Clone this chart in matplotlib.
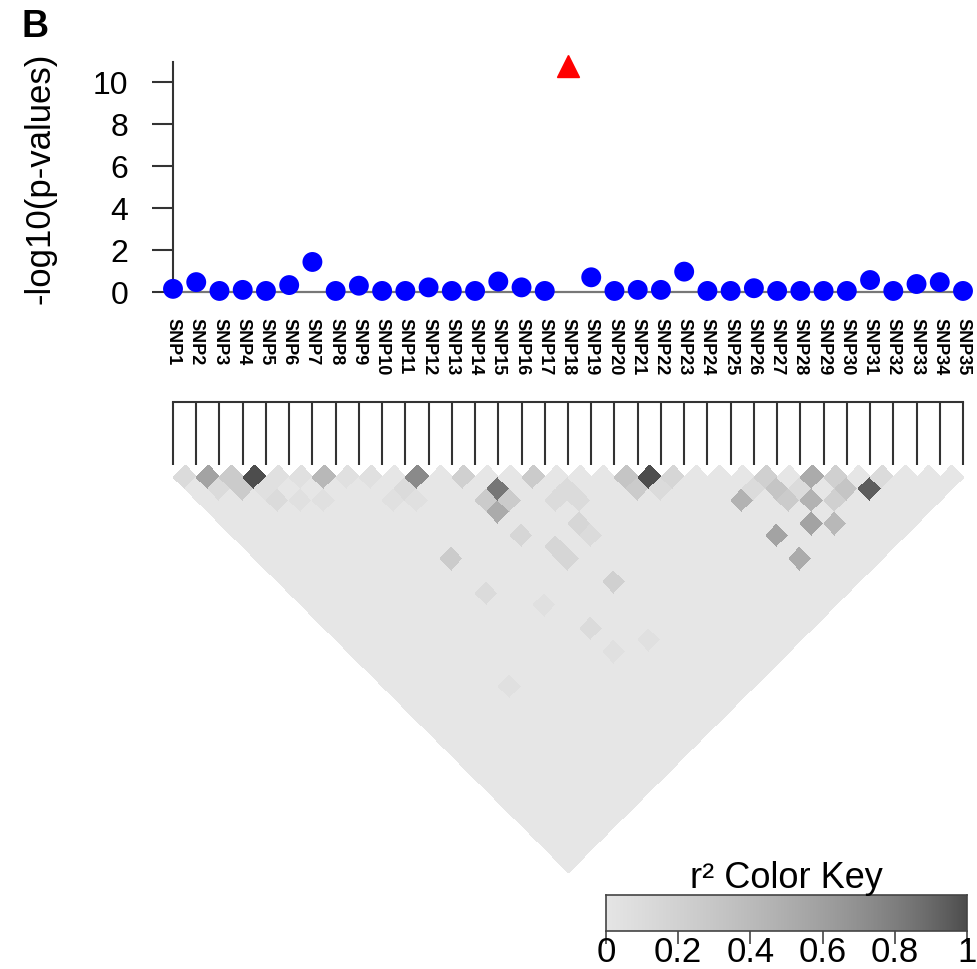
import numpy as np
import matplotlib
matplotlib.use("Agg")
import matplotlib.pyplot as plt
from matplotlib.colors import ListedColormap, BoundaryNorm, LinearSegmentedColormap

plt.rcParams['font.family'] = ['Liberation Sans', 'DejaVu Sans']

# ---------------- data ----------------
snp_labels = [f"SNP{i}" for i in range(1, 36)]
neglog_p = [0.15, 0.47, 0.05, 0.10, 0.05, 0.33, 1.43, 0.05, 0.30, 0.05,
            0.05, 0.22, 0.05, 0.05, 0.50, 0.22, 0.05, 10.74, 0.70, 0.05,
            0.10, 0.10, 0.97, 0.05, 0.05, 0.18, 0.05, 0.05, 0.05, 0.05,
            0.57, 0.05, 0.38, 0.47, 0.05]
top_snp = 18  # highlighted SNP (red triangle)

ytick_vals = [0, 2, 4, 6, 8, 10]
key_ticks = [0, 0.2, 0.4, 0.6, 0.8, 1]
key_ticklabels = ["0", "0.2", "0.4", "0.6", "0.8", "1"]

# pairwise LD (r^2) values; other pairs are near zero
ld_background = 0.03
ld_pairs = {
    (1, 2): 0.10, (2, 3): 0.60, (3, 4): 0.29, (3, 5): 0.25, (4, 5): 0.97,
    (2, 4): 0.10, (4, 6): 0.08, (4, 7): 0.10, (5, 8): 0.09, (6, 9): 0.08,
    (5, 6): 0.07, (6, 7): 0.08, (7, 8): 0.40, (8, 9): 0.07, (9, 10): 0.07,
    (9, 12): 0.09, (10, 12): 0.10, (10, 13): 0.09, (11, 12): 0.72,
    (13, 14): 0.20, (16, 17): 0.28, (14, 16): 0.83, (13, 16): 0.28,
    (14, 17): 0.25, (13, 17): 0.52, (13, 19): 0.18, (9, 17): 0.25,
    (14, 21): 0.18, (16, 19): 0.12, (17, 19): 0.12, (17, 20): 0.10,
    (16, 21): 0.16, (16, 22): 0.14, (14, 22): 0.16, (15, 25): 0.22,
    (20, 21): 0.35, (20, 22): 0.30, (21, 22): 0.96, (22, 23): 0.18,
    (21, 23): 0.12, (24, 27): 0.47, (26, 27): 0.20, (26, 28): 0.35,
    (26, 29): 0.30, (28, 29): 0.52, (27, 30): 0.47, (29, 30): 0.20,
    (29, 31): 0.35, (28, 31): 0.22, (30, 32): 0.95, (31, 32): 0.10,
    (26, 31): 0.58, (27, 32): 0.42, (24, 30): 0.55, (24, 32): 0.50,
    (25, 27): 0.10, (27, 29): 0.12, (9, 20): 0.10, (6, 25): 0.07,
    (12, 26): 0.10, (12, 28): 0.09, (14, 29): 0.09, (11, 23): 0.07,
}

# ---------------- colours (R grey.colors(20), light = 0, dark = 1) ----------------
s, e = 0.3 ** 2.2, 0.9 ** 2.2
levels = (e - (e - s) * np.arange(20) / 19) ** (1 / 2.2)
ld_colors = [(g, g, g) for g in levels]
ld_cmap = ListedColormap(ld_colors)
ld_norm = BoundaryNorm(np.linspace(0, 1, 21), 20)
key_cmap = LinearSegmentedColormap.from_list("key", ld_colors)

W, H = 977, 970
fig = plt.figure(figsize=(W / 100, H / 100), dpi=100)


def px_axes(l, t, r, b):
    return fig.add_axes([l / W, 1 - b / H, (r - l) / W, (b - t) / H])


n = len(snp_labels)
xs = np.arange(1, n + 1)

# ---------------- top: association plot ----------------
ax = px_axes(173, 63, 963, 293)
ax.set_xlim(1, n)
ax.set_ylim(0, 10.95)
for sp in ["top", "right", "bottom"]:
    ax.spines[sp].set_visible(False)
ax.spines["left"].set_color("#333333")
ax.spines["left"].set_linewidth(1.5)
ax.plot([1, n], [0, 0], color="#777777", lw=1.6, zorder=1, clip_on=False)

vals = np.array(neglog_p)
mask = xs != top_snp
ax.scatter(xs[mask], vals[mask], s=205, color="#0000FF", zorder=3, clip_on=False,
           edgecolors="none")
ax.plot([top_snp], [vals[top_snp - 1]], marker="^", ms=16, color="#FF0000",
        ls="none", zorder=3, clip_on=False)

ax.set_yticks(ytick_vals)
ax.set_yticklabels([str(v) for v in ytick_vals])
ax.tick_params(axis="y", direction="out", length=15, width=1.5, color="#333333",
               labelsize=23, pad=17)
ax.set_xticks(xs)
ax.set_xticklabels(snp_labels, rotation=-90, fontweight="bold", fontsize=13)
ax.tick_params(axis="x", length=0, pad=18)
ax.set_ylabel("-log10(p-values)", fontsize=25, va="center")
ax.yaxis.set_label_coords(-0.168, 0.5)

fig.text(22 / W, 1 - 37 / H, "B", fontsize=27, fontweight="bold",
         ha="left", va="baseline")

# ---------------- bottom: LD heatmap ----------------
ax2 = px_axes(173, 395, 963, 880)
unit = 790 / (n - 1)
ax2.set_xlim(1, n)
ax2.set_ylim(-(880 - 466) / unit, (466 - 395) / unit)
ax2.axis("off")

R = np.full((n, n), ld_background)
for (i, j), v in ld_pairs.items():
    R[i - 1, j - 1] = v
ii, jj = np.meshgrid(np.arange(n), np.arange(n), indexing="ij")
Rm = np.ma.masked_where(jj <= ii, R)

edges = np.arange(n + 1) + 0.5
A, B = np.meshgrid(edges, edges, indexing="ij")
X = (A + B) / 2.0
Y = -(B - A) / 2.0
ax2.pcolormesh(X, Y, Rm, cmap=ld_cmap, norm=ld_norm, edgecolors="face",
               linewidth=0.4, clip_on=False)

line_top = (466 - 403) / unit
ax2.plot([1, n], [line_top, line_top], color="#333333", lw=1.5, clip_on=False)
ax2.vlines(xs, 0, line_top, color="#333333", lw=1.5, clip_on=False)

# ---------------- colour key ----------------
ax3 = px_axes(606, 896, 967, 932)
grad = np.linspace(0, 1, 256)[None, :]
ax3.imshow(grad, cmap=key_cmap, vmin=0, vmax=1, extent=[0, 1, 0, 1], aspect="auto")
ax3.set_xlim(0, 1)
ax3.set_ylim(0, 1)
ax3.set_yticks([])
ax3.set_xticks(key_ticks)
ax3.set_xticklabels(key_ticklabels)
ax3.tick_params(axis="x", direction="out", length=9, width=1.2, color="#444444",
                labelsize=25, pad=-6)
for sp in ax3.spines.values():
    sp.set_color("#444444")
    sp.set_linewidth(1.2)
ax3.set_title("r\u00b2 Color Key", fontsize=26, pad=0)

fig.savefig("out.png", dpi=100, facecolor="white")
